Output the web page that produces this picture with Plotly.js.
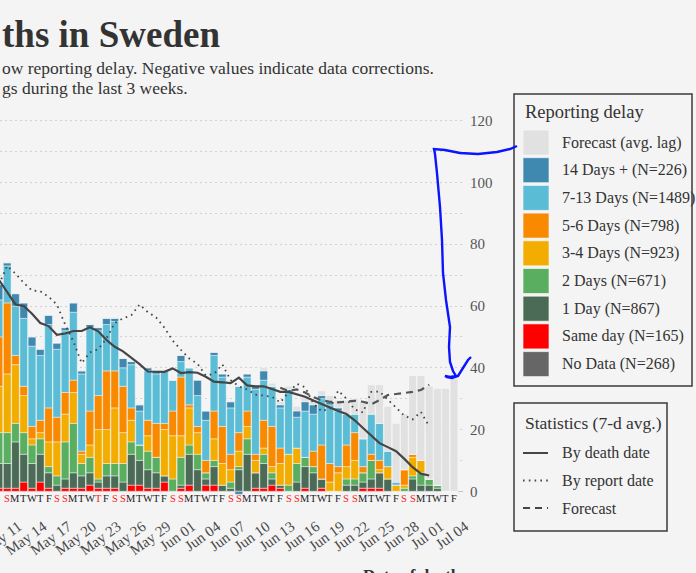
<!DOCTYPE html>
<html><head><meta charset="utf-8">
<script src="https://cdn.plot.ly/plotly-3.0.1.min.js"></script>
<style>html,body{margin:0;padding:0;background:#f4f4f4;}#chart{width:696px;height:573px;}</style>
</head><body><div id="chart"></div>
<script>
// ---------------- DATA ----------------
const dates = ["2020-05-09","2020-05-10","2020-05-11","2020-05-12","2020-05-13","2020-05-14","2020-05-15","2020-05-16","2020-05-17","2020-05-18","2020-05-19","2020-05-20","2020-05-21","2020-05-22","2020-05-23","2020-05-24","2020-05-25","2020-05-26","2020-05-27","2020-05-28","2020-05-29","2020-05-30","2020-05-31","2020-06-01","2020-06-02","2020-06-03","2020-06-04","2020-06-05","2020-06-06","2020-06-07","2020-06-08","2020-06-09","2020-06-10","2020-06-11","2020-06-12","2020-06-13","2020-06-14","2020-06-15","2020-06-16","2020-06-17","2020-06-18","2020-06-19","2020-06-20","2020-06-21","2020-06-22","2020-06-23","2020-06-24","2020-06-25","2020-06-26","2020-06-27","2020-06-28","2020-06-29","2020-06-30","2020-07-01","2020-07-02","2020-07-03"];
const dayLetters = ["S","S","M","T","W","T","F","S","S","M","T","W","T","F","S","S","M","T","W","T","F","S","S","M","T","W","T","F","S","S","M","T","W","T","F","S","S","M","T","W","T","F","S","S","M","T","W","T","F","S","S","M","T","W","T","F"];
const redDays = ["2020-05-09","2020-05-10","2020-05-16","2020-05-17","2020-05-21","2020-05-23","2020-05-24","2020-05-30","2020-05-31","2020-06-06","2020-06-07","2020-06-13","2020-06-14","2020-06-20","2020-06-21","2020-06-27","2020-06-28"];
const tickDates = ["2020-05-11","2020-05-14","2020-05-17","2020-05-20","2020-05-23","2020-05-26","2020-05-29","2020-06-01","2020-06-04","2020-06-07","2020-06-10","2020-06-13","2020-06-16","2020-06-19","2020-06-22","2020-06-25","2020-06-28","2020-07-01","2020-07-04"];
const tickLabels = ["May 11","May 14","May 17","May 20","May 23","May 26","May 29","Jun 01","Jun 04","Jun 07","Jun 10","Jun 13","Jun 16","Jun 19","Jun 22","Jun 25","Jun 28","Jul 01","Jul 04"];

const noData    = [0,0,0,0,0,0,0,0,0,0,0,0,0,0,0,0,0,0,0,0,0,0,0,0,0,0,0,0,0,0,0,0,0,0,0,0,0,0,0,0,0,0,0,0,0,0,0,0,0,0,0,0,0,0,0,0];
const sameDay   = [1,1,1,3,1,3,1,0,1,1,1,2,1,1,1,0,2,2,1,1,3,0,1,2,0,2,2,0,0,0,0,1,1,2,1,0,0,1,0,1,0,0,0,0,1,1,1,0,0,0,0,0,0,0,0,0];
const day1      = [8,8,15,9,8,9,5,2,3,5,4,4,2,4,4,3,10,8,6,5,2,0,1,10,7,2,6,2,1,7,12,5,8,2,1,0,3,7,6,3,0,0,2,2,2,3,5,4,0,0,4,2,2,1,0,0];
const days2     = [10,10,6,7,6,5,2,3,12,16,4,5,1,4,4,6,4,5,6,5,0,4,9,3,5,2,2,0,2,1,5,0,3,2,0,2,6,3,2,0,0,0,2,2,3,6,0,0,0,1,1,4,2,1,0,0];
const days3to4  = [15,19,19,12,2,2,8,11,9,10,3,4,16,11,18,10,7,0,5,0,15,14,7,12,7,0,7,7,4,5,4,4,2,2,7,10,5,0,0,0,3,6,4,6,0,0,1,4,2,1,6,4,0,0,0,0];
const days5to6  = [16,23,3,3,4,4,11,8,7,4,1,11,11,19,12,15,4,0,5,11,2,8,19,1,2,4,9,12,5,6,5,2,9,13,5,0,0,0,5,11,6,2,7,9,2,2,3,0,0,5,1,0,0,0,0,0];
const days7to13 = [12,12,16,22,26,21,27,22,20,22,25,27,21,15,16,6,14,11,16,16,17,10,5,12,10,13,18,16,15,15,11,21,13,13,13,21,10,15,12,15,19,18,10,6,9,13,12,5,1,0,0,0,0,0,0,0];
const days14plus= [5,1,4,5,3,2,3,2,1,3,1,1,1,2,1,3,1,2,1,1,0,0,2,0,5,3,1,1,2,-1,1,1,3,0,1,0,2,3,3,1,1,1,0,0,0,0,0,0,0,0,0,0,0,0,0,0];
const forecastLag = [0,0,0,0,0,0,0,0,0,0,0,0,0,0,0,0,0,0,0,0,0,0,0,0,0,0,0,0,0,0,0,0.5,1,1,1,1,1.5,1.5,1.5,1.5,2,2.5,4.5,5,12,9.5,12.5,14.5,19,18,25.5,27.5,30,31.3,33.3,36.5];

// 7-day averages (May 09 .. Jun 30)
const avgByDeathDate  = [68.5,64.5,60.5,60,57.5,54.5,53.5,50.7,51.1,51.9,51.9,53.1,51.8,49,46.8,45.3,43.3,41.2,38.8,38.7,38.7,39.8,38.3,38.6,38.4,37.1,35.5,35.3,35,36.8,34.3,34,34,33.1,32.2,32.2,31.4,30.6,29.4,28.2,27.2,26,25,23,20.5,18,15.6,14.3,13,10.5,7.8,5.7,5.1];
const avgByReportDate = [67,73,70.5,67.5,65,64.8,63,60.5,54,48.5,41.5,45,46,49.5,54.5,56,57,60.5,58,56.3,53,48.8,45.8,43,41.3,37.5,38,41.1,36,34,33,31.3,31,30.6,28.8,32,34.8,33.7,28.5,25.9,26.8,32.6,30,26.5,25.5,32.2,32.3,29.8,27,24.5,23.3,25.7,21];
// forecast 7-day average (Jun 12 .. Jun 30)
const forecastAvgDates = ["2020-06-12","2020-06-13","2020-06-14","2020-06-15","2020-06-16","2020-06-17","2020-06-18","2020-06-19","2020-06-20","2020-06-21","2020-06-22","2020-06-23","2020-06-24","2020-06-25","2020-06-26","2020-06-27","2020-06-28","2020-06-29","2020-06-30"];
const forecastAvg = [33.5,32.5,33,32,30.5,29.5,29,28.8,29,29.3,29,28.2,29.5,31.2,31.5,31.8,32.2,32.8,34.5];

const delayNames  = ["Forecast (avg. lag)","14 Days + (N=226)","7-13 Days (N=1489)","5-6 Days (N=798)","3-4 Days (N=923)","2 Days (N=671)","1 Day (N=867)","Same day (N=165)","No Data (N=268)"];
const statNames   = ["By death date","By report date","Forecast"];
const yTicks = [0,20,40,60,80,100,120];

// ---------------- STYLE / GEOMETRY ----------------
const COL = {forecast:"#e1e1e1", d14:"#3f88b0", d713:"#5bbcd6", d56:"#f98a00", d34:"#f2ad00", d2:"#59ae60", d1:"#4b6b56", same:"#ff0000", nod:"#666666"};
const delayColors = [COL.forecast,COL.d14,COL.d713,COL.d56,COL.d34,COL.d2,COL.d1,COL.same,COL.nod];
const SERIF = "Liberation Serif, DejaVu Serif, serif";
const TXT = "#333333";
const W = 696, H = 573, PL = 0, PR = 463, PT = 113, PB = 495;
const px = x => (x - PL) / (PR - PL);
const py = y => (PB - y) / (PB - PT);
const DAY = 86400000;
const iso = ms => new Date(ms).toISOString().slice(0,19).replace('T',' ');
const d0 = Date.UTC(2020,4,10);
const pxPerDay = 8.274, x0px = 7.2;
const xRange = [iso(d0 - (x0px/pxPerDay)*DAY), iso(d0 + ((PR - x0px)/pxPerDay)*DAY)];

// ---------------- TRACES ----------------
const barSeries = [
  [noData, delayNames[8], COL.nod],
  [sameDay, delayNames[7], COL.same],
  [day1, delayNames[6], COL.d1],
  [days2, delayNames[5], COL.d2],
  [days3to4, delayNames[4], COL.d34],
  [days5to6, delayNames[3], COL.d56],
  [days7to13, delayNames[2], COL.d713],
  [days14plus, delayNames[1], COL.d14],
  [forecastLag, delayNames[0], COL.forecast]
];
const traces = barSeries.map(([vals, name, color]) => ({
  type: 'bar', x: dates, y: vals, name: name, showlegend: false,
  marker: {color: color, line: {color: 'rgba(250,250,250,0.75)', width: 0.6}},
  hoverinfo: 'skip'
}));
const lineDates = dates.slice(0, avgByDeathDate.length);
traces.push({type:'scatter', mode:'lines', x: lineDates, y: avgByReportDate, name: statNames[1], showlegend:false,
  line:{color:'#444444', width:1.8, dash:'1.6px,4.2px'}, hoverinfo:'skip'});
traces.push({type:'scatter', mode:'lines', x: forecastAvgDates, y: forecastAvg, name: statNames[2], showlegend:false,
  line:{color:'#555555', width:2.2, dash:'7px,5px'}, hoverinfo:'skip'});
traces.push({type:'scatter', mode:'lines', x: lineDates, y: avgByDeathDate, name: statNames[0], showlegend:false,
  line:{color:'#454545', width:2.2}, hoverinfo:'skip'});

// ---------------- ANNOTATIONS & SHAPES ----------------
const ann = [];
const shapes = [];
function addText(text, x, y, size, opts) {
  ann.push(Object.assign({xref:'paper', yref:'paper', x: px(x), y: py(y), text: text, showarrow:false,
    xanchor:'left', yanchor:'middle', font:{family:SERIF, size:size, color:TXT}}, opts || {}));
}
addText('<b>ths in Sweden</b>', 0, 35, 37);
addText('ow reporting delay. Negative values indicate data corrections.', 0, 68, 17.5);
addText('gs during the last 3 weeks.', 0, 88, 17.5);
addText('<b>Date of death</b>', PR, 575, 17, {xanchor:'right'});

// day letters under each bar
dates.forEach((d, i) => {
  ann.push({xref:'x', yref:'paper', x: d, y: py(498.5), text: dayLetters[i], showarrow:false,
    xanchor:'center', yanchor:'middle',
    font:{family:SERIF, size:10.5, color: redDays.includes(d) ? '#ff1a1a' : '#222222'}});
});

// Legend 1: Reporting delay
shapes.push({type:'rect', xref:'paper', yref:'paper', x0:px(514), x1:px(692), y0:py(94), y1:py(386),
  line:{color:'#3a3a3a', width:1.5}, fillcolor:'rgba(0,0,0,0)'});
addText('Reporting delay', 523, 112, 18.5);
delayNames.forEach((n, i) => {
  const top = 130 + i*27.7;
  shapes.push({type:'rect', xref:'paper', yref:'paper', x0:px(523), x1:px(549), y0:py(top), y1:py(top+25),
    line:{color:'rgba(250,250,250,0.8)', width:0.8}, fillcolor: delayColors[i]});
  addText(n, 560, top + 12.5, 16);
});

// Legend 2: Statistics
shapes.push({type:'rect', xref:'paper', yref:'paper', x0:px(514), x1:px(667), y0:py(403), y1:py(531),
  line:{color:'#3a3a3a', width:1.5}, fillcolor:'rgba(0,0,0,0)'});
addText('Statistics (7-d avg.)', 523, 423, 17.5);
const statDash = ['solid', '1.6px,4.2px', '7px,5px'];
statNames.forEach((n, i) => {
  const y = 453 + i*27.5;
  shapes.push({type:'line', xref:'paper', yref:'paper', x0:px(523), x1:px(548), y0:py(y), y1:py(y),
    line:{color:'#454545', width:2, dash: statDash[i]}});
  addText(n, 560, y, 16);
});

// hand-drawn blue mark
const bluePts = [[517,146],[510,149],[497,152],[478,154],[460,153],[445,150],[434,149],[435,154],[437,173],[440,207],[442,240],[443,273],[446,300],[450,327],[449,347],[450,362],[453,371],[456,376],[450,377],[445,376],[447,377],[452,378],[458,376],[463,368],[468,360],[471,357]];
shapes.push({type:'path', xref:'paper', yref:'paper',
  path: 'M' + bluePts.map(p => px(p[0]).toFixed(5) + ',' + py(p[1]).toFixed(5)).join(' L'),
  line:{color:'#0a14ff', width:2.4}, fillcolor:'rgba(0,0,0,0)'});

// ---------------- LAYOUT ----------------
const layout = {
  width: W, height: H, autosize:false,
  margin: {l: PL, r: W - PR, t: PT, b: H - PB, pad: 0},
  paper_bgcolor: '#f4f4f4', plot_bgcolor: '#f4f4f4',
  barmode: 'relative', bargap: 0.07,
  showlegend: false,
  font: {family: SERIF, color: TXT},
  xaxis: {type:'date', range: xRange, tickmode:'array', tickvals: tickDates, ticktext: tickLabels,
    tickangle: -36, tickfont:{family:SERIF, size:15, color:'#4a4a4a'}, ticks:'', showgrid:false,
    zeroline:false, showline:false, ticklabelstandoff: 19, ticklabelshift: 3, ticklabeloverflow:'allow', fixedrange:true},
  yaxis: {side:'right', range:[-1.2, 122.5], tickmode:'array', tickvals: yTicks, ticks:'',
    tickfont:{family:SERIF, size:15, color:'#555555'}, showgrid:true, gridcolor:'#d2d2d2', gridwidth:1,
    griddash:'1.5px,3.5px', zeroline:true, zerolinecolor:'#c4c4c4', zerolinewidth:1, showline:false,
    ticklabelstandoff: 6,
    minor:{tickmode:'linear', tick0:0, dtick:10, showgrid:true, gridcolor:'#d2d2d2', gridwidth:1, griddash:'1.5px,3.5px', ticks:''},
    fixedrange:true},
  annotations: ann,
  shapes: shapes
};
Plotly.newPlot('chart', traces, layout, {staticPlot:true, displayModeBar:false});
</script>
</body></html>
